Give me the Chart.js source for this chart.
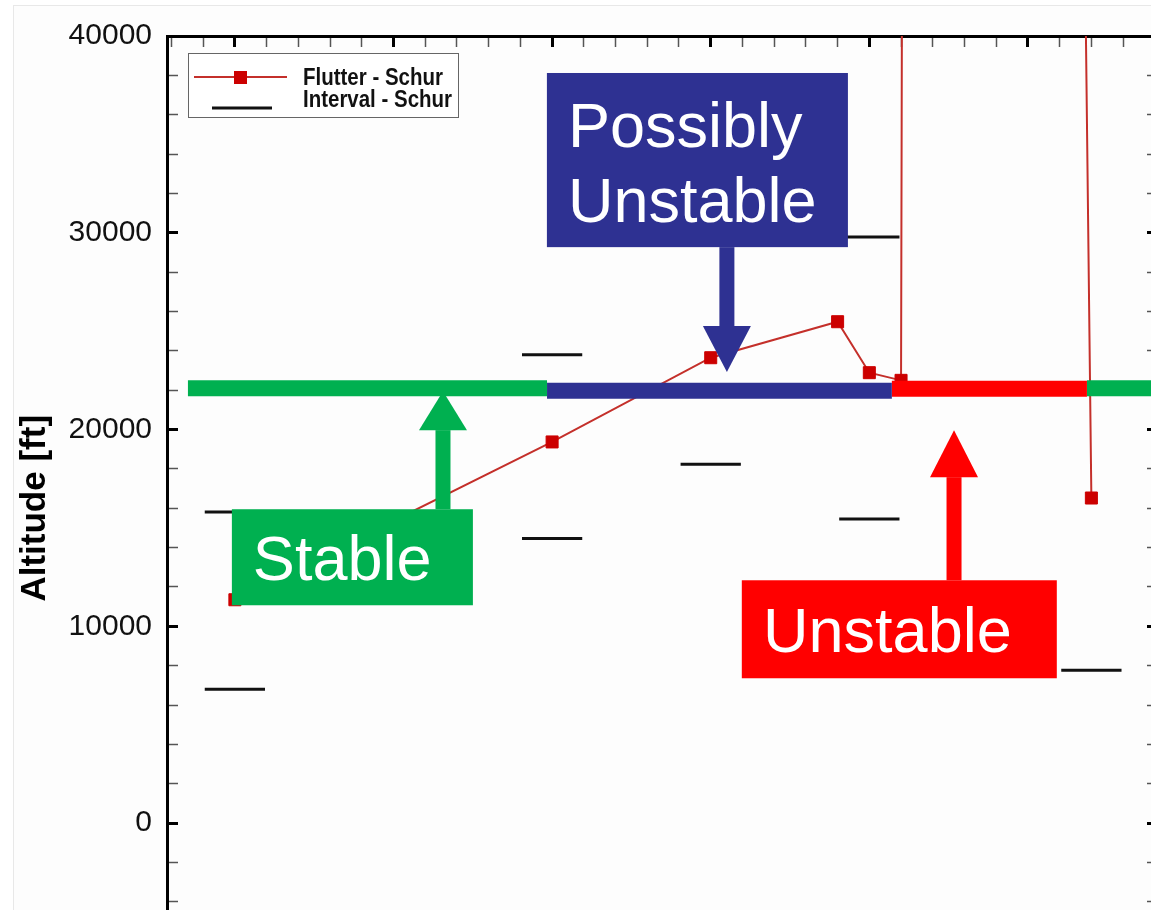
<!DOCTYPE html>
<html>
<head>
<meta charset="utf-8">
<title>Flutter - Schur</title>
<script src="https://cdn.jsdelivr.net/npm/chart.js@4.4.1/dist/chart.umd.min.js"></script>
<style>
  html, body { margin: 0; padding: 0; background: #fff; overflow: hidden; }
  .frame { position: absolute; left: 13px; top: 5px; right: 0; bottom: 0; background: #fdfdfd;
           border-left: 1px solid #e8e8e8; border-top: 1px solid #e8e8e8; }
  #flutterChart { position: absolute; left: 0; top: 0; }
</style>
</head>
<body>
<div class="frame"></div>
<canvas id="flutterChart" width="1170" height="990"></canvas>
<script>
// Flutter - Schur (red squares), x in axis tick units
const flutterX = [0, 10, 15, 19, 20, 21, 22, 27];
const flutterAlt = [11350, 19370, 23650, 25480, 22890, 22500, 700000, 16520];

// Interval - Schur, lower / upper bound at each point (null = not visible)
const intervalX = [0, 10, 15, 20, 27];
const intervalLow = [6800, 14460, 18230, 15450, 7770];
const intervalHigh = [15810, 23800, null, 29780, null];

// stability bands along the altitude line
const bandFrom = [-1.48, 9.84, 20.71, 26.86];
const bandTo = [9.84, 20.71, 26.86, 29.1];
const bandAlt = [22100, 21970, 22070, 22100];

const yTickLabels = [0, 10000, 20000, 30000, 40000];

const FONT = '"Liberation Sans", Arial, Helvetica, sans-serif';
const GREEN = '#00b050', BLUE = '#2e3192', RED = '#ff0000';
const bandColors = [GREEN, BLUE, RED, GREEN];
const X_MIN = -2.14, X_MAX = 29.1;
const Y_MIN = -8000, Y_MAX = 40000;
const PLOT_LEFT = 167, PLOT_TOP = 36;
const SEG_HALF = 0.95;

const bandSets = bandFrom.map((x0, i) => ({
    label: 'band' + i,
    data: [{x: x0, y: bandAlt[i]}, {x: bandTo[i], y: bandAlt[i]}],
    borderColor: bandColors[i],
    borderWidth: 16,
    pointRadius: 0
}));

const intervalPts = [];
intervalX.forEach((x, i) => {
    [intervalLow[i], intervalHigh[i]].forEach(v => {
        if (v === null) return;
        intervalPts.push({x: x - SEG_HALF, y: v}, {x: x + SEG_HALF, y: v}, {x: x, y: null});
    });
});

// inward tick marks, thicker on the major ticks
function tickGrid(major) {
    return {
        drawOnChartArea: false,
        drawTicks: true,
        tickLength: -11,
        tickWidth: c => (c.tick && c.tick.value % major === 0) ? 3 : 1.5,
        tickColor: c => (c.tick && c.tick.value % major === 0) ? '#000' : '#555'
    };
}
const axisBorder = { display: true, width: 3, color: '#000' };

// text boxes and arrows laid over the plot (data coordinates)
const notes = [
    { color: GREEN, box: [-0.095, 7.503, 15950, 11070], textX: 0.567, lines: [['Stable', 12340]],
      arrow: { x: 6.56, tail: 15950, head: 19970, tip: 21950 } },
    { color: BLUE, box: [9.836, 19.325, 38120, 29270], textX: 10.5, lines: [['Possibly', 34360], ['Unstable', 30550]],
      arrow: { x: 15.51, tail: 29270, head: 25260, tip: 22920 } },
    { color: RED, box: [15.98, 25.91, 12340, 7360], textX: 16.65, lines: [['Unstable', 8680]],
      arrow: { x: 22.67, tail: 12340, head: 17580, tip: 19970 } }
];

const slideNotes = {
    id: 'slideNotes',
    afterDatasetsDraw(chart) {
        const {ctx, scales: {x, y}} = chart;
        ctx.save();
        notes.forEach(n => {
            const ax = x.getPixelForValue(n.arrow.x);
            const tail = y.getPixelForValue(n.arrow.tail);
            const head = y.getPixelForValue(n.arrow.head);
            const tip = y.getPixelForValue(n.arrow.tip);
            ctx.fillStyle = n.color;
            ctx.fillRect(ax - 7.5, Math.min(tail, head), 15, Math.abs(tail - head));
            ctx.beginPath();
            ctx.moveTo(ax - 24, head);
            ctx.lineTo(ax + 24, head);
            ctx.lineTo(ax, tip);
            ctx.closePath();
            ctx.fill();

            const bx0 = x.getPixelForValue(n.box[0]), bx1 = x.getPixelForValue(n.box[1]);
            const by0 = y.getPixelForValue(n.box[2]), by1 = y.getPixelForValue(n.box[3]);
            ctx.fillRect(bx0, by0, bx1 - bx0, by1 - by0);
            ctx.fillStyle = '#fff';
            ctx.font = '63px ' + FONT;
            ctx.textAlign = 'left';
            ctx.textBaseline = 'alphabetic';
            n.lines.forEach(([txt, base]) => {
                ctx.fillText(txt, x.getPixelForValue(n.textX), y.getPixelForValue(base));
            });
        });
        ctx.restore();
    },
    afterDraw(chart) {
        // legend box, top left of the plot
        const {ctx, chartArea} = chart;
        const lx = chartArea.left + 21, ly = chartArea.top + 17;
        ctx.save();
        ctx.fillStyle = '#fff';
        ctx.fillRect(lx, ly, 270, 64);
        ctx.strokeStyle = '#666';
        ctx.lineWidth = 1;
        ctx.strokeRect(lx + 0.5, ly + 0.5, 270, 64);

        ctx.strokeStyle = '#c4302b';
        ctx.lineWidth = 2;
        ctx.beginPath();
        ctx.moveTo(lx + 6, ly + 24);
        ctx.lineTo(lx + 99, ly + 24);
        ctx.stroke();
        ctx.fillStyle = '#cc0000';
        ctx.fillRect(lx + 46, ly + 18, 13, 13);

        ctx.strokeStyle = '#111';
        ctx.lineWidth = 3;
        ctx.beginPath();
        ctx.moveTo(lx + 24, ly + 55);
        ctx.lineTo(lx + 84, ly + 55);
        ctx.stroke();

        ctx.fillStyle = '#111';
        ctx.font = 'bold 23px ' + FONT;
        ctx.textAlign = 'left';
        ctx.textBaseline = 'alphabetic';
        ctx.fillText('Flutter - Schur', lx + 115, ly + 32, 140);
        ctx.fillText('Interval - Schur', lx + 115, ly + 54, 149);
        ctx.restore();
    }
};

const ctxFlutter = document.getElementById('flutterChart');
new Chart(ctxFlutter, {
    type: 'line',
    data: {
        datasets: [
            ...bandSets,
            {
                label: 'Flutter - Schur',
                data: flutterX.map((x, i) => ({x: x, y: flutterAlt[i]})),
                borderColor: '#c4302b',
                borderWidth: 2,
                pointStyle: 'rect',
                pointRadius: 8.5,
                pointBackgroundColor: '#cc0000',
                pointBorderColor: '#cc0000',
                pointBorderWidth: 1
            },
            {
                label: 'Interval - Schur',
                data: intervalPts,
                borderColor: '#111',
                borderWidth: 3,
                pointRadius: 0,
                spanGaps: false
            }
        ]
    },
    options: {
        responsive: false,
        animation: false,
        devicePixelRatio: 1,
        layout: { padding: 0 },
        plugins: { legend: { display: false }, tooltip: { enabled: false } },
        scales: {
            x: { type: 'linear', display: false, bounds: 'data', min: X_MIN, max: X_MAX },
            x2: {
                type: 'linear', position: 'top', display: true, bounds: 'data', min: X_MIN, max: X_MAX,
                ticks: { display: false },
                afterBuildTicks: s => {
                    const t = [];
                    for (let v = Math.ceil(s.min); v <= s.max; v++) t.push({value: v});
                    s.ticks = t;
                },
                afterFit: s => { s.height = PLOT_TOP; },
                grid: tickGrid(5),
                border: axisBorder
            },
            y: {
                type: 'linear', position: 'left', min: Y_MIN, max: Y_MAX,
                ticks: {
                    stepSize: 2000, autoSkip: false, maxTicksLimit: 100, padding: 26,
                    color: '#111', font: { family: FONT, size: 30 },
                    callback: v => yTickLabels.includes(v) ? String(v) : ''
                },
                title: {
                    display: true, text: 'Altitude [ft]', color: '#000',
                    font: { family: FONT, size: 35, weight: 'bold', lineHeight: 1 },
                    padding: { top: 18, bottom: 0 }
                },
                afterFit: s => { s.width = PLOT_LEFT; s.paddingTop = 0; s.paddingBottom = 0; },
                grid: tickGrid(10000),
                border: axisBorder
            },
            y2: {
                type: 'linear', position: 'right', display: true, min: Y_MIN, max: Y_MAX,
                ticks: { display: false, stepSize: 2000, maxTicksLimit: 100 },
                afterFit: s => { s.width = 12; },
                grid: tickGrid(10000),
                border: axisBorder
            }
        }
    },
    plugins: [slideNotes]
});
</script>
</body>
</html>
